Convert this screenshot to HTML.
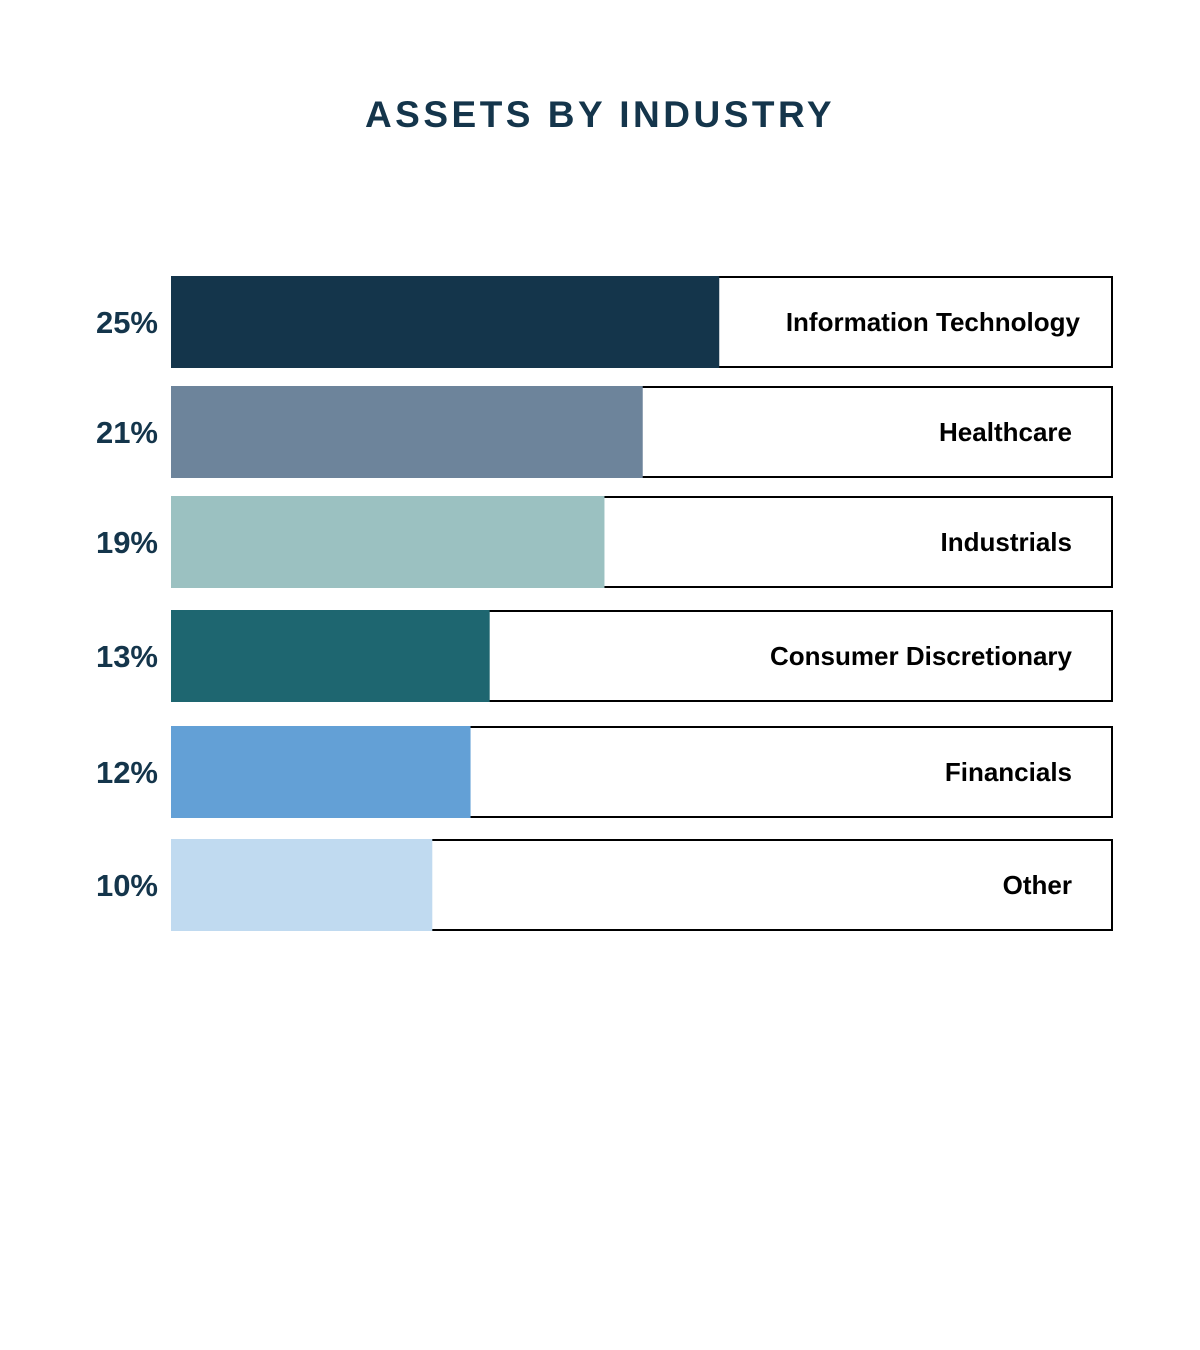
<!DOCTYPE html>
<html><head><meta charset="utf-8"><style>
body{margin:0;width:1200px;height:1350px;background:#fff;overflow:hidden;font-family:"Liberation Sans",sans-serif}
#title{position:absolute;left:0;width:1200px;top:94px;text-align:center;font-size:37px;font-weight:bold;letter-spacing:3.5px;color:#14354b}
</style></head><body>
<div id="title">ASSETS BY INDUSTRY</div>
<svg id="chart" width="1200" height="1350" style="position:absolute;left:0;top:0"></svg>
<script>
const categories=["Information Technology","Healthcare","Industrials","Consumer Discretionary","Financials","Other"];
const values=[25,21,19,13,12,10];
const valueLabels=["25%","21%","19%","13%","12%","10%"];
const colors=["#14354b","#6d849b","#9bc1c1","#1e6670","#63a0d6","#c0daf0"];
const rowTops=[277,387,497,611,727,840];
const x0=171,boxRight=1112,rowH=90;
function xScale(v){return x0+70+19.13*v;}
const svg=document.getElementById('chart');
const NS='http://www.w3.org/2000/svg';
function mk(t,a){const e=document.createElementNS(NS,t);for(const k in a)e.setAttribute(k,a[k]);svg.appendChild(e);return e;}
values.forEach((v,i)=>{
  const y=rowTops[i];
  const box=mk('rect',{x:x0+1,y:y,width:boxRight-x0-1,height:rowH,fill:'#fff',stroke:'#000','stroke-width':2});
  
  
  const bar=mk('rect',{x:x0,y:y-1,width:xScale(v)-x0,height:rowH+2,fill:colors[i]});
  
  
  const lab=mk('text',{x:i===0?1080:1072,y:y+rowH/2+9,'text-anchor':'end','font-size':26,'font-weight':'bold','font-family':'Liberation Sans, sans-serif',fill:'#000'});
  lab.textContent=categories[i];
  
  
  const pl=mk('text',{x:158,y:y+rowH/2+11,'text-anchor':'end','font-size':31,'font-weight':'bold','font-family':'Liberation Sans, sans-serif',fill:'#14354b'});
  pl.textContent=valueLabels[i];
  
  
});
</script>
</body></html>
